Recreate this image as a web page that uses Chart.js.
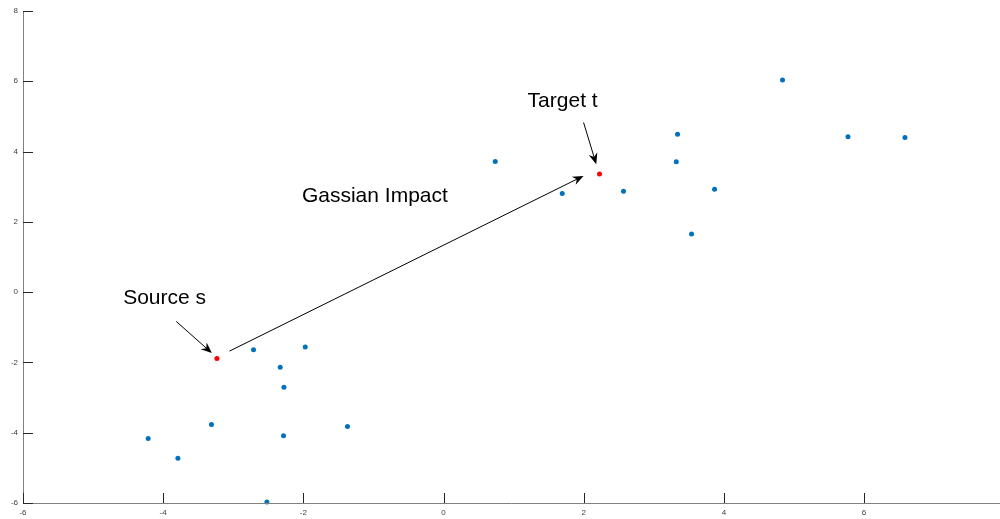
<!DOCTYPE html>
<html>
<head>
<meta charset="utf-8">
<script src="https://cdn.jsdelivr.net/npm/chart.js@4"></script>
<style>
  html, body { margin: 0; padding: 0; background: #fff; }
  #wrap { width: 1000px; height: 519px; }
</style>
</head>
<body>
<div id="wrap"><canvas id="grafica"></canvas></div>
<script>
// puntos azules (nube)
const puntosX = [4.837, 5.771, 6.584, 3.339, 3.321, 0.738, 1.694, 2.568, 3.867, 3.539,
  -2.711, -1.973, -2.330, -2.277, -3.311, -4.214, -3.790, -2.283, -1.370, -2.520];
const puntosY = [6.034, 4.419, 4.402, 4.496, 3.707, 3.718, 2.806, 2.872, 2.929, 1.655,
  -1.638, -1.564, -2.134, -2.704, -3.766, -4.165, -4.726, -4.088, -3.823, -5.969];

// origen y destino (rojos)
const rojosX = [-3.233, 2.226];
const rojosY = [-1.886, 3.365];

const xTicks = [-6, -4, -2, 0, 2, 4, 6];
const yTicks = [-6, -4, -2, 0, 2, 4, 6, 8];

// anotaciones (coordenadas de datos)
const textos = [
  { texto: 'Source s', x: -4.571, y: -0.35 },
  { texto: 'Gassian Impact', x: -2.02, y: 2.56 },
  { texto: 'Target t', x: 1.20, y: 5.27 }
];
const flechas = [
  { x1: -3.814, y1: -0.832, x2: -3.305, y2: -1.735 },
  { x1: -3.054, y1: -1.678, x2: 1.998, y2: 3.308 },
  { x1: 1.998, y1: 4.829, x2: 2.179, y2: 3.641 }
];

const toXY = (xs, ys) => xs.map((x, i) => ({ x: x, y: ys[i] }));

function flecha(ctx, x1, y1, x2, y2) {
  const ang = Math.atan2(y2 - y1, x2 - x1);
  const largo = 11, ancho = 4.5;
  ctx.beginPath();
  ctx.moveTo(x1, y1);
  ctx.lineTo(x2 - Math.cos(ang) * 6, y2 - Math.sin(ang) * 6);
  ctx.stroke();
  const bx = x2 - Math.cos(ang) * largo, by = y2 - Math.sin(ang) * largo;
  const nx = -Math.sin(ang), ny = Math.cos(ang);
  ctx.beginPath();
  ctx.moveTo(x2, y2);
  ctx.lineTo(bx + nx * ancho, by + ny * ancho);
  ctx.lineTo(x2 - Math.cos(ang) * 7.5, y2 - Math.sin(ang) * 7.5);
  ctx.lineTo(bx - nx * ancho, by - ny * ancho);
  ctx.closePath();
  ctx.fill();
}

const ejesPlugin = {
  id: 'ejes',
  afterDraw(chart) {
    const ctx = chart.ctx;
    const a = chart.chartArea;
    const sx = chart.scales.x, sy = chart.scales.y;
    ctx.save();
    // lineas de ejes
    ctx.strokeStyle = '#808080';
    ctx.lineWidth = 1;
    ctx.beginPath();
    ctx.moveTo(a.left + 0.5, a.top);
    ctx.lineTo(a.left + 0.5, a.bottom + 0.5);
    ctx.lineTo(a.right, a.bottom + 0.5);
    ctx.stroke();
    // marcas hacia dentro
    ctx.strokeStyle = '#262626';
    ctx.beginPath();
    xTicks.forEach(v => {
      const px = Math.round(sx.getPixelForValue(v)) + 0.5;
      ctx.moveTo(px, a.bottom);
      ctx.lineTo(px, a.bottom - 10);
    });
    yTicks.forEach(v => {
      const py = Math.round(sy.getPixelForValue(v)) + 0.5;
      ctx.moveTo(a.left, py);
      ctx.lineTo(a.left + 10, py);
    });
    ctx.stroke();
    // flechas
    ctx.strokeStyle = '#000';
    ctx.fillStyle = '#000';
    ctx.lineWidth = 1;
    flechas.forEach(f => {
      flecha(ctx, sx.getPixelForValue(f.x1), sy.getPixelForValue(f.y1),
        sx.getPixelForValue(f.x2), sy.getPixelForValue(f.y2));
    });
    // textos
    ctx.font = '21px "Liberation Sans", Arial, sans-serif';
    ctx.textBaseline = 'alphabetic';
    ctx.textAlign = 'left';
    textos.forEach(t => {
      ctx.fillText(t.texto, sx.getPixelForValue(t.x), sy.getPixelForValue(t.y));
    });
    ctx.restore();
  }
};

const ctx = document.getElementById('grafica').getContext('2d');
new Chart(ctx, {
  type: 'scatter',
  data: {
    datasets: [
      {
        label: 'puntos',
        data: toXY(puntosX, puntosY),
        backgroundColor: '#0072BD',
        borderWidth: 0,
        pointRadius: 2.5,
        clip: false
      },
      {
        label: 'origen-destino',
        data: toXY(rojosX, rojosY),
        backgroundColor: '#FF0000',
        borderWidth: 0,
        pointRadius: 2.5,
        clip: false
      }
    ]
  },
  options: {
    responsive: true,
    maintainAspectRatio: false,
    animation: false,
    layout: { autoPadding: false, padding: { top: 11, right: 0, bottom: 0, left: 0 } },
    plugins: {
      legend: { display: false },
      tooltip: { enabled: false }
    },
    scales: {
      x: {
        type: 'linear',
        min: -6,
        max: 7.94,
        afterBuildTicks: s => { s.ticks = xTicks.map(v => ({ value: v })); },
        afterFit: s => { s.height = 16; },
        grid: { display: false, drawTicks: false },
        border: { display: false },
        ticks: {
          padding: 5,
          maxRotation: 0,
          autoSkip: false,
          color: '#404040',
          font: { family: '"Liberation Sans", Arial, sans-serif', size: 8 }
        }
      },
      y: {
        type: 'linear',
        min: -6,
        max: 8,
        afterBuildTicks: s => { s.ticks = yTicks.map(v => ({ value: v })); },
        afterFit: s => { s.width = 23; },
        grid: { display: false, drawTicks: false },
        border: { display: false },
        ticks: {
          padding: 5,
          autoSkip: false,
          color: '#404040',
          font: { family: '"Liberation Sans", Arial, sans-serif', size: 8 }
        }
      }
    }
  },
  plugins: [ejesPlugin]
});
</script>
</body>
</html>
